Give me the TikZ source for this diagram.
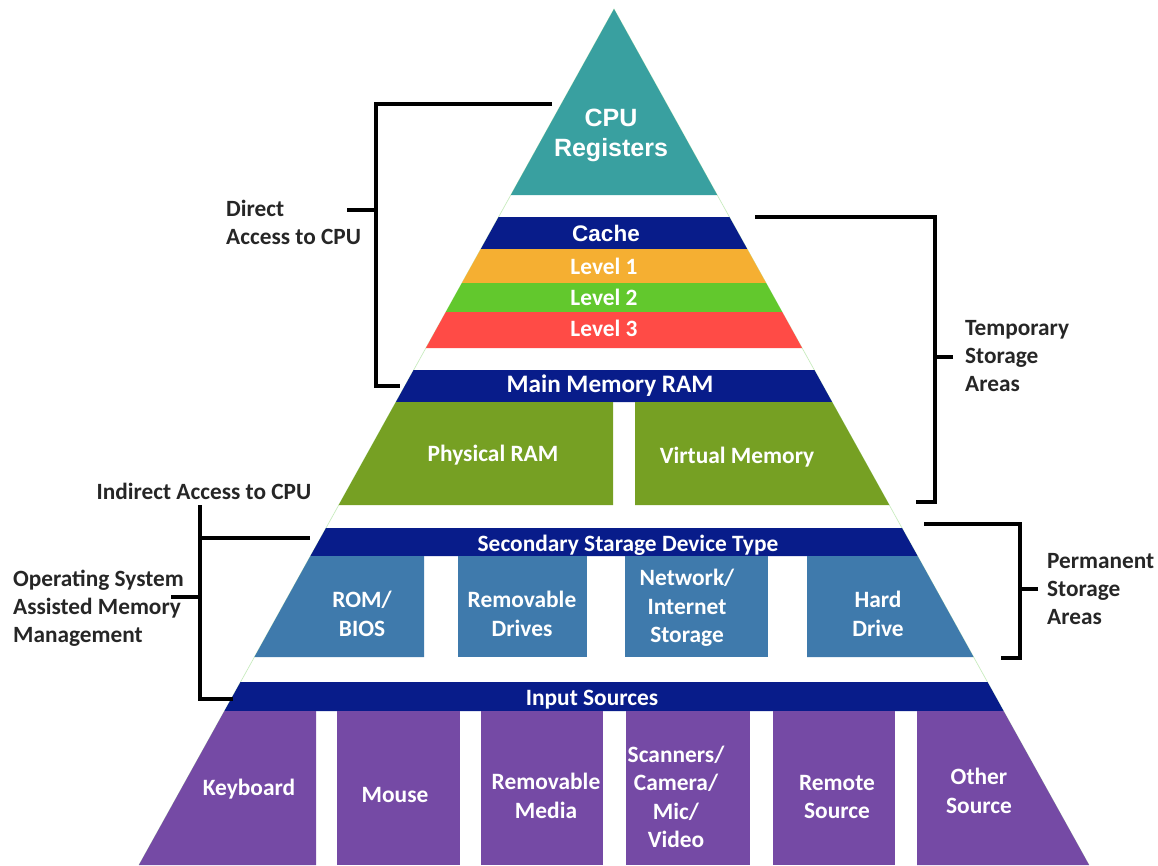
\documentclass[tikz,border=0pt]{standalone}
\usepackage{fontspec}
\setmainfont{Carlito}
\newfontfamily\arialfont{Liberation Sans}
\usetikzlibrary{calc,positioning}

\definecolor{tealreg}{RGB}{57,160,160}
\definecolor{navyband}{RGB}{8,28,138}
\definecolor{orangelvl}{RGB}{245,175,50}
\definecolor{limelvl}{RGB}{98,200,45}
\definecolor{redlvl}{RGB}{255,75,70}
\definecolor{oliveram}{RGB}{118,160,35}
\definecolor{steelsec}{RGB}{63,122,172}
\definecolor{purpleinp}{RGB}{117,74,165}
\definecolor{edgegreen}{RGB}{200,235,190}

\begin{document}
\begin{tikzpicture}[x=1pt,y=-1pt]
			\tikzset{intext/.style= {text=white, align=center, inner sep=0pt, font=\bfseries\fontsize{23.4}{28.5}\selectfont},
				outtext/.style= {text=black!85, align=left, inner sep=0pt, font=\bfseries\fontsize{23.3}{28}\selectfont},
				bracket/.style= {draw, line width=3.2pt},
			}
			\useasboundingbox (0,0) rectangle (1158,865);

			% faint outline of the pyramid
			\path[draw, edgegreen, line width=0.7pt] (139,865) -- (614,9) -- (1089,865);

			% top
			\fill[tealreg] (614,9) -- (717.2,195) -- (510.8,195) -- cycle;

			% cache
			\fill[navyband] (498.6,217) -- (729.4,217) -- (747.2,249) -- (480.8,249) -- cycle;
			\fill[orangelvl] (480.8,249) -- (747.2,249) -- (766.1,283) -- (461.9,283) -- cycle;
			\fill[limelvl] (461.9,283) -- (766.1,283) -- (782.2,312) -- (445.8,312) -- cycle;
			\fill[redlvl] (445.8,312) -- (782.2,312) -- (802.1,348) -- (425.9,348) -- cycle;

			% main memory
			\fill[navyband] (413.6,370) -- (814.4,370) -- (832.1,402) -- (395.9,402) -- cycle;
			\fill[oliveram] (395.9,402) -- (613,402) -- (613,505) -- (338.7,505) -- cycle;
			\fill[oliveram] (635,402) -- (832.1,402) -- (889.3,505) -- (635,505) -- cycle;

			% secondary storage
			\fill[navyband] (326,528) -- (902,528) -- (917.6,556) -- (310.4,556) -- cycle;
			\fill[steelsec] (310.4,556) -- (424,556) -- (424,657) -- (254.4,657) -- cycle;
			\fill[steelsec] (458,556) rectangle (587,657);
			\fill[steelsec] (625,556) rectangle (768,657);
			\fill[steelsec] (807,556) -- (917.6,556) -- (973.6,657) -- (807,657) -- cycle;

			% input sources
			\fill[navyband] (240.5,682) -- (987.5,682) -- (1003.6,711) -- (224.4,711) -- cycle;
			\fill[purpleinp] (224.4,711) -- (316,711) -- (316,865) -- (138.9,865) -- cycle;
			\fill[purpleinp] (337,711) rectangle (460,865);
			\fill[purpleinp] (481,711) rectangle (603,865);
			\fill[purpleinp] (626,711) rectangle (750,865);
			\fill[purpleinp] (773,711) rectangle (895,865);
			\fill[purpleinp] (917,711) -- (1003.6,711) -- (1089.1,865) -- (917,865) -- cycle;

			\node [intext, font=\arialfont\bfseries\fontsize{25}{30}\selectfont] (cpu) at (611,135) {CPU\\Registers};
			\node [intext, font=\arialfont\bfseries\fontsize{22.5}{28}\selectfont] (cache) at (606,233) {Cache};
			\node [intext] (lvlone) at (604,266) {Level 1};
			\node [intext] (lvltwo) at (604,297) {Level 2};
			\node [intext] (lvlthree) at (604,328) {Level 3};
			\node [intext, font=\bfseries\fontsize{25.2}{28}\selectfont] (ram) at (610,386) {Main Memory RAM};
			\node [intext] (phys) at (493,455) {Physical RAM};
			\node [intext] (virt) at (737,457) {Virtual Memory};

			\node [intext] (second) at (628,545) {Secondary Starage Device Type};
			\node [intext] (rom) at (362,614) {ROM/\\BIOS};
			\node [intext] (remdrv) at (522,614) {Removable\\Drives};
			\node [intext] (net) at (687,608) {Network/\\Internet\\Storage};
			\node [intext] (hard) at (878,614) {Hard\\Drive};

			\node [intext] (input) at (592,700) {Input Sources};
			\node [intext] (keyb) at (249,789) {Keyboard};
			\node [intext] (mouse) at (395,795) {Mouse};
			\node [intext] (remmed) at (546,796) {Removable\\Media};
			\node [intext] (scan) at (676,797) {Scanners/\\Camera/\\Mic/\\Video};
			\node [intext] (remote) at (837,797) {Remote\\Source};
			\node [intext] (other) at (979,791) {Other\\Source};

			% side labels
			\node [outtext, anchor=west] (direct) at (226,222) {Direct\\Access to CPU};
			\node [outtext, anchor=west] (temp) at (965,356) {Temporary\\Storage\\Areas};
			\node [outtext, anchor=west] (perm) at (1047,589) {Permanent\\Storage\\Areas};
			\node [outtext] (indirect) at (204,491) {Indirect Access to CPU};
			\node [outtext, anchor=west] (os) at (13,608) {Operating System\\Assisted Memory\\Management};

			\coordinate (dtop) at (552,104);
			\coordinate (dbot) at (400,386);
			\coordinate (dtick) at (347,210);
			\path[bracket] (dtop) -- (376,104) |- (dbot);
			\path[bracket] (dtick) -- (376,210);

			\coordinate (ttop) at (755,217);
			\coordinate (tbot) at (916,502);
			\coordinate (ttick) at (953,357);
			\path[bracket] (ttop) -- (935,217) |- (tbot);
			\path[bracket] (ttick) -- (935,357);

			\coordinate (ptop) at (924,524);
			\coordinate (pbot) at (1001,658);
			\coordinate (ptick) at (1038,589);
			\path[bracket] (ptop) -- (1020,524) |- (pbot);
			\path[bracket] (ptick) -- (1020,589);

			\coordinate (itop) at (200,505);
			\coordinate (imid) at (310,538);
			\coordinate (ibot) at (233,699);
			\coordinate (itick) at (171,597);
			\path[bracket] (itop) |- (ibot);
			\path[bracket] (imid) -- (200,538);
			\path[bracket] (itick) -- (200,597);
		\end{tikzpicture}
\end{document}
